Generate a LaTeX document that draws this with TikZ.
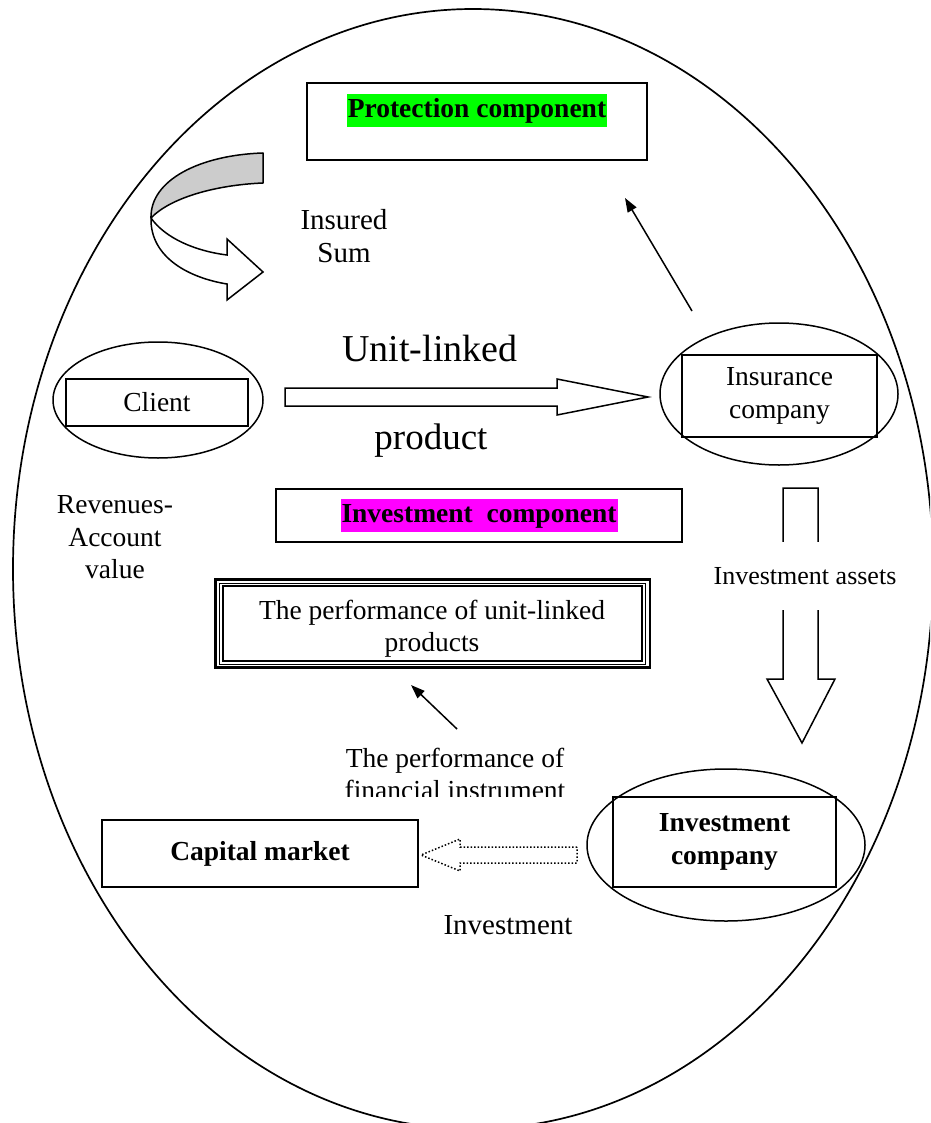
\documentclass[tikz,border=0pt]{standalone}
\usepackage{fontspec}
\setmainfont{Liberation Serif}
\usetikzlibrary{arrows.meta,shapes.geometric}
\definecolor{hlgreen}{RGB}{0,255,0}
\definecolor{hlmag}{RGB}{255,0,255}
\newcommand\fsz[2]{\fontsize{#1}{#2}\selectfont}
\tikzset{
  base/.style={inner sep=0pt, outer sep=0pt, font=\fsz{27.5}{32.5}},
  boxnode/.style={base, draw, rectangle, line width=1.8pt},
  ellnode/.style={base, draw, ellipse, line width=1.5pt},
  txt/.style={base, align=center},
  hl/.style={base, font=\fsz{27.5}{32.5}\bfseries, minimum height=33pt, inner xsep=1pt},
  thinarrow/.style={line width=1.5pt, -{Triangle[length=14pt,width=10pt]}},
  blockarrow/.style={draw, line width=1.5pt, fill=white, line join=miter},
}
\begin{document}
\begin{tikzpicture}[x=1pt,y=-1pt]
\useasboundingbox (0,0) rectangle (930,1123);
\clip (0,0) rectangle (930,1123);
% big ellipse
\draw[line width=1.7pt] (473,569) ellipse [x radius=460, y radius=560];

% protection component
\node[boxnode, minimum width=340, minimum height=77] (prot) at (477,121.5) {};
\node[hl, fill=hlgreen] (protlbl) at (477,111) {\strut Protection component};

% curved arrow (insured sum)
\filldraw[line width=1.5pt, fill=black!20, line join=round]
  (263,153) .. controls (200,155) and (150,180) .. (151,218)
  .. controls (170,198) and (215,185) .. (263,183) -- cycle;
\filldraw[line width=1.5pt, fill=white, line join=miter]
  (151,218) .. controls (150,258) and (190,278) .. (227,284)
  -- (227,300) -- (263,272) -- (227,239) -- (227,255)
  .. controls (195,251) and (165,238) .. (151,218) -- cycle;
\node[txt, font=\fsz{29}{33}] (insured) at (344,236) {Insured\\Sum};

% client
\node[ellnode, minimum width=210, minimum height=116] (clientell) at (158,400) {};
\node[boxnode, line width=1.6pt, minimum width=182, minimum height=47] (client) at (157,402.5) {Client};

% insurance company
\node[ellnode, minimum width=238, minimum height=142] (insell) at (779,394) {};
\node[boxnode, line width=1.6pt, minimum width=195, minimum height=82, align=center] (ins) at (779.5,396) {Insurance\\company};

% unit-linked arrow
\coordinate (ulB) at (648,397);
\path[blockarrow] (285,388) -- (557,388) -- (557,379) -- (ulB) -- (557,415) -- (557,406) -- (285,406) -- cycle;
\node[txt, font=\fsz{38}{42}] (ul1) at (430,349) {Unit-linked};
\node[txt, font=\fsz{37}{42}] (ul2) at (431,441) {product};

% arrow to protection
\coordinate (insTail) at (692,311);
\coordinate (protTip) at (625,198);
\draw[thinarrow] (insTail) -- (protTip);

% revenues
\node[txt] (rev) at (115,537.5) {Revenues-\\Account\\value};

% investment component
\node[boxnode, minimum width=406, minimum height=53] (invcomp) at (479,515.5) {};
\node[hl, fill=hlmag] (invlbl) at (479,515.5) {\strut Investment\ \ component};

% performance box (triple line)
\node[base, draw, rectangle, line width=2.8pt, minimum width=434.5, minimum height=88.1] (perf) at (432.75,623.75) {};
\draw[line width=0.9pt] ([shift={(4.3,3.6)}]perf.north west) rectangle ([shift={(-4.2,-3.5)}]perf.south east);
\draw[line width=2.3pt] ([shift={(7.8,6.6)}]perf.north west) rectangle ([shift={(-8,-7.1)}]perf.south east);
\node[txt] (perftxt) at (432,628.5) {The performance of unit-linked\\products};

% performance of financial instrument
\begin{scope}
\clip (300,700) rectangle (620,796);
\node[txt] (fin) at (455,774) {The performance of\\financial instrument};
\end{scope}
\coordinate (finTail) at (457,729);
\coordinate (perfTip) at (411,685);
\draw[thinarrow] (finTail) -- (perfTip);

% investment assets arrow
\path[blockarrow] (783,488) -- (818,488) -- (818,679) -- (835,679) -- (802,743) -- (767,679) -- (783,679) -- cycle;
\node[txt, font=\fsz{26}{30}, fill=white, minimum height=68, inner xsep=2pt] (assets) at (805,576) {Investment assets};

% investment company
\node[ellnode, minimum width=278, minimum height=152] (invell) at (726,845) {};
\node[boxnode, line width=1.6pt, minimum width=223, minimum height=90, align=center, font=\fsz{27.5}{32.5}\bfseries] (invco) at (724.5,842) {Investment\\company};

% capital market
\node[boxnode, line width=1.6pt, minimum width=316, minimum height=67, font=\fsz{27.5}{32.5}\bfseries] (cap) at (260,853.5) {Capital market};

% dotted arrow
\path[draw, line width=1.5pt, dotted, line join=miter] (577,847) -- (460,847) -- (460,839) -- (421,855) -- (460,871) -- (460,863) -- (577,863) -- cycle;
\node[txt, font=\fsz{29}{33}] (invest) at (508,925) {Investment};
\end{tikzpicture}
\end{document}
